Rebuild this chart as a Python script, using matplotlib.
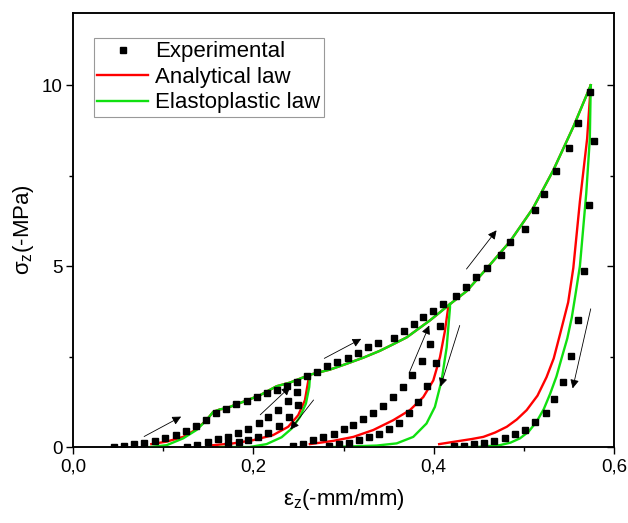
import numpy as np
import matplotlib
matplotlib.use("Agg")
import matplotlib.pyplot as plt
from matplotlib.ticker import FixedLocator

plt.rcParams['font.family'] = ['Liberation Sans', 'DejaVu Sans']
plt.rcParams['mathtext.default'] = 'regular'

# Experimental points (strain, stress)
exp_x = [0.046, 0.057, 0.068, 0.079, 0.091, 0.102, 0.114, 0.125, 0.136, 0.1475,
         0.1585, 0.1696, 0.181, 0.1925, 0.2036, 0.2147, 0.2265, 0.2376, 0.2487, 0.2598,
         # unloading 1
         0.249, 0.240, 0.2286, 0.2166, 0.2055, 0.194, 0.184, 0.172,
         # reloading 1
         0.127, 0.138, 0.150, 0.161, 0.172, 0.1833, 0.1944, 0.2066, 0.2165, 0.2276, 0.2387, 0.2487,
         # loading 2
         0.271, 0.282, 0.293, 0.3045, 0.316, 0.327, 0.338, 0.3565, 0.367, 0.378, 0.388, 0.3995, 0.41,
         # unloading 2
         0.407, 0.4025, 0.393, 0.383, 0.373, 0.3617, 0.3507, 0.3396, 0.3285, 0.3175, 0.306,
         0.295, 0.284,
         # reloading 2
         0.244, 0.255, 0.266, 0.2775, 0.289, 0.300, 0.311, 0.322, 0.333, 0.344, 0.355, 0.3655,
         0.376, 0.3866, 0.396,
         # loading 3
         0.425, 0.436, 0.447, 0.4585, 0.474, 0.485, 0.5007, 0.512, 0.522, 0.536, 0.550, 0.560, 0.5733,
         # unloading 3
         0.578, 0.5724, 0.567, 0.560, 0.552, 0.543, 0.5336, 0.524, 0.512, 0.501, 0.490, 0.479,
         0.467, 0.456, 0.4446, 0.4335, 0.422]
exp_y = [0.0, 0.04, 0.08, 0.12, 0.17, 0.24, 0.33, 0.44, 0.58, 0.76,
         0.95, 1.06, 1.18, 1.27, 1.38, 1.49, 1.58, 1.68, 1.79, 1.97,
         1.16, 0.84, 0.59, 0.40, 0.27, 0.18, 0.13, 0.08,
         0.01, 0.05, 0.13, 0.21, 0.28, 0.39, 0.51, 0.67, 0.83, 1.02, 1.27, 1.52,
         2.08, 2.23, 2.35, 2.46, 2.61, 2.77, 2.88, 3.02, 3.22, 3.41, 3.59, 3.77, 3.96,
         3.35, 2.32, 1.70, 1.25, 0.93, 0.65, 0.51, 0.37, 0.28, 0.19, 0.12,
         0.07, 0.04,
         0.04, 0.08, 0.18, 0.28, 0.37, 0.50, 0.62, 0.78, 0.93, 1.13, 1.38, 1.65,
         1.98, 2.39, 2.86,
         4.18, 4.43, 4.71, 4.96, 5.31, 5.68, 6.03, 6.54, 7.0, 7.62, 8.26, 8.97, 9.82,
         8.46, 6.69, 4.86, 3.51, 2.51, 1.81, 1.32, 0.95, 0.70, 0.48, 0.35, 0.24,
         0.16, 0.11, 0.07, 0.04, 0.02]

# common loading envelope of both laws
env_x = [0.1555, 0.163, 0.170, 0.1888, 0.2073, 0.2258, 0.2406, 0.263, 0.285, 0.3034,
         0.322, 0.3404, 0.355, 0.370, 0.3958, 0.418, 0.4365, 0.4586, 0.4845, 0.510,
         0.5325, 0.5547, 0.574]
env_y = [0.97, 1.04, 1.07, 1.25, 1.43, 1.68, 1.78, 2.0, 2.14, 2.30,
         2.47, 2.66, 2.84, 3.03, 3.50, 3.95, 4.31, 4.93, 5.68, 6.60,
         7.65, 8.85, 10.0]

# Elastoplastic law (green)
ep_start_x = [0.0854, 0.104, 0.1223, 0.137, 0.148]
ep_start_y = [0.0, 0.05, 0.24, 0.47, 0.74]
ep_un1_x = [0.263, 0.262, 0.2583, 0.2517, 0.2425, 0.2314, 0.2147, 0.196, 0.163]
ep_un1_y = [2.0, 1.66, 1.20, 0.83, 0.51, 0.27, 0.08, 0.0, 0.0]
ep_un2_x = [0.418, 0.418, 0.4143, 0.4087, 0.4013, 0.392, 0.3773, 0.3589, 0.3367, 0.2886]
ep_un2_y = [3.95, 3.85, 2.75, 1.84, 1.11, 0.65, 0.28, 0.10, 0.04, 0.0]
ep_un3_x = [0.574, 0.573, 0.569, 0.562, 0.557, 0.553, 0.548, 0.542, 0.536, 0.529, 0.522,
            0.514, 0.505, 0.4956, 0.485, 0.473, 0.4475, 0.414]
ep_un3_y = [10.0, 8.52, 7.0, 5.0, 4.2, 3.58, 3.0, 2.48, 1.95, 1.47, 1.05,
            0.70, 0.42, 0.24, 0.12, 0.05, 0.0, 0.0]

# Analytical law (red)
an_start_x = [0.087, 0.104, 0.1223, 0.137, 0.148]
an_start_y = [0.08, 0.15, 0.28, 0.49, 0.74]
an_un1_x = [0.263, 0.261, 0.2572, 0.2498, 0.2387, 0.222, 0.200, 0.1777, 0.1555]
an_un1_y = [2.0, 1.84, 1.29, 0.88, 0.56, 0.33, 0.19, 0.10, 0.05]
an_un2_x = [0.418, 0.416, 0.4124, 0.4069, 0.3995, 0.3884, 0.3736, 0.355, 0.333, 0.311,
            0.2886, 0.2627]
an_un2_y = [3.95, 3.85, 3.21, 2.48, 1.84, 1.38, 1.02, 0.74, 0.47, 0.28,
            0.17, 0.08]
an_un3_x = [0.574, 0.570, 0.562, 0.5547, 0.549, 0.540, 0.533, 0.525, 0.515, 0.503,
            0.492, 0.481, 0.468, 0.455, 0.442, 0.429, 0.406]
an_un3_y = [10.0, 8.52, 6.79, 4.95, 4.0, 3.12, 2.45, 1.93, 1.42, 1.02,
            0.76, 0.56, 0.40, 0.28, 0.22, 0.17, 0.08]

# direction arrows: (x_start, y_start, x_end, y_end)
arrows = [(0.079, 0.29, 0.12, 0.84),
          (0.2077, 0.89, 0.241, 1.67),
          (0.2668, 1.30, 0.241, 0.48),
          (0.2787, 2.45, 0.3196, 2.99),
          (0.3728, 2.05, 0.395, 3.36),
          (0.4288, 3.36, 0.4075, 1.67),
          (0.4363, 4.92, 0.4696, 5.99),
          (0.574, 3.82, 0.554, 1.62)]

red = '#ff0000'
green = '#10e010'
lw = 1.7

fig = plt.figure(figsize=(6.28, 5.23), dpi=100)
ax = fig.add_axes([0.116, 0.1453, 0.862, 0.83])

ax.plot(an_start_x + env_x, an_start_y + env_y, color=red, lw=lw, label='Analytical law', zorder=2)
for xs, ys in [(an_un1_x, an_un1_y), (an_un2_x, an_un2_y), (an_un3_x, an_un3_y)]:
    ax.plot(xs, ys, color=red, lw=lw, zorder=2)
ax.plot(ep_start_x + env_x, ep_start_y + env_y, color=green, lw=lw, label='Elastoplastic law', zorder=3)
for xs, ys in [(ep_un1_x, ep_un1_y), (ep_un2_x, ep_un2_y), (ep_un3_x, ep_un3_y)]:
    ax.plot(xs, ys, color=green, lw=lw, zorder=3)
ax.plot(exp_x, exp_y, 's', color='k', ms=4.5, ls='none', label='Experimental', zorder=4)

for x0, y0, x1, y1 in arrows:
    ax.annotate('', xy=(x1, y1), xytext=(x0, y0),
                arrowprops=dict(arrowstyle='-|>', color='k', lw=0.6, mutation_scale=13,
                                shrinkA=0, shrinkB=0))

ax.set_xlim(0, 0.6)
ax.set_ylim(0, 12)
ax.xaxis.set_major_locator(FixedLocator([0, 0.2, 0.4, 0.6]))
ax.xaxis.set_minor_locator(FixedLocator([0.1, 0.3, 0.5]))
ax.yaxis.set_major_locator(FixedLocator([0, 5, 10]))
ax.yaxis.set_minor_locator(FixedLocator([2.5, 7.5]))
ax.set_xticklabels(['0,0', '0,2', '0,4', '0,6'])
ax.set_yticklabels(['0', '5', '10'])
ax.tick_params(which='both', direction='out', top=False, right=False, labelsize=13.5, width=1)
ax.tick_params(which='major', length=5)
ax.tick_params(which='minor', length=3)
ax.tick_params(axis='y', pad=2.5)

# inward ticks on the right side
ax2 = ax.twinx()
ax2.set_ylim(0, 12)
ax2.yaxis.set_major_locator(FixedLocator([0, 5, 10]))
ax2.yaxis.set_minor_locator(FixedLocator([2.5, 7.5]))
ax2.tick_params(which='both', direction='in', labelright=False, width=1)
ax2.tick_params(which='major', length=5)
ax2.tick_params(which='minor', length=3)

for a in (ax, ax2):
    for s in a.spines.values():
        s.set_linewidth(1.1)

ax.set_xlabel('ε$_z$(-mm/mm)', fontsize=16, labelpad=8)
ax.set_ylabel('σ$_z$(-MPa)', fontsize=16, labelpad=4)

h, l = ax.get_legend_handles_labels()
order = [l.index('Experimental'), l.index('Analytical law'), l.index('Elastoplastic law')]
leg = ax.legend([h[i] for i in order], [l[i] for i in order], loc='upper left',
                bbox_to_anchor=(0.039, 0.942), fontsize=16, frameon=True, fancybox=False,
                handlelength=2.3, handletextpad=0.3, borderpad=0.15, labelspacing=0.2,
                borderaxespad=0)
leg.get_frame().set_edgecolor('#808080')
leg.get_frame().set_linewidth(0.8)

fig.savefig('out.png', dpi=100)
